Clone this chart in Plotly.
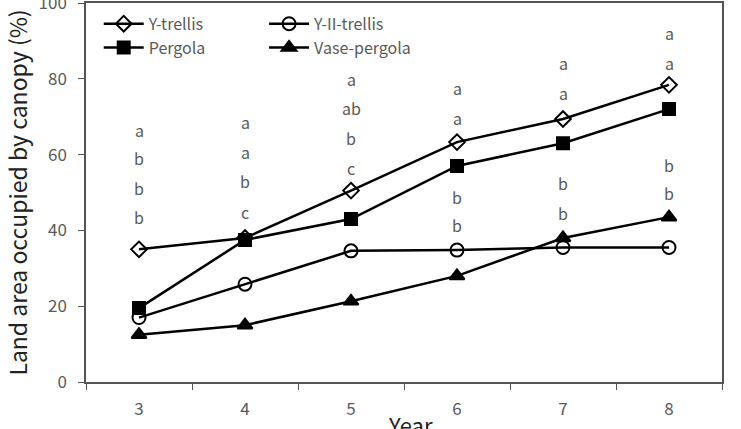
import plotly.graph_objects as go

years = [3, 4, 5, 6, 7, 8]
y_trellis = [35, 38, 50.5, 63.3, 69.4, 78.4]
y2_trellis = [17, 25.8, 34.6, 34.8, 35.5, 35.5]
pergola = [19.5, 37.5, 43, 57, 63, 72]
vase_pergola = [12.5, 15, 21.3, 28, 38, 43.5]

# significance letters per year (top to bottom) and their heights (data units)
letters = [
    ["a", "b", "b", "b"],
    ["a", "a", "b", "c"],
    ["a", "ab", "b", "c"],
    ["a", "a", "b", "b"],
    ["a", "a", "b", "b"],
    ["a", "a", "b", "b"],
]
letter_y = [
    [66.5, 59.1, 51.2, 43.5],
    [68.6, 60.7, 53.0, 44.9],
    [79.9, 72.3, 64.4, 56.5],
    [77.6, 69.7, 48.8, 41.4],
    [84.2, 76.3, 52.5, 44.6],
    [92.1, 84.2, 57.3, 49.9],
]

FONT = "Noto Sans CJK KR"
TXT = "#5a5a5a"

fig = go.Figure()
series = [
    ("Y-trellis", y_trellis, "diamond-open", 12, "legend"),
    ("Pergola", pergola, "square", 12, "legend"),
    ("Y-II-trellis", y2_trellis, "circle-open", 13, "legend2"),
    ("Vase-pergola", vase_pergola, "triangle-up", 13, "legend2"),
]
for name, vals, sym, size, leg in series:
    fig.add_trace(go.Scatter(
        x=years, y=vals, name=name, mode="lines+markers",
        line=dict(color="black", width=2.5),
        marker=dict(symbol=sym, size=size, color="black",
                    line=dict(color="black", width=2)),
        legend=leg,
    ))

for yr, ts, ys in zip(years, letters, letter_y):
    for t, yv in zip(ts, ys):
        fig.add_annotation(x=yr, y=yv, xref="x", yref="y", text=t, showarrow=False,
                           font=dict(family=FONT, size=16, color=TXT))

# x-axis title (placed low so it is partly cut by the page edge, as in the reference)
fig.add_annotation(x=0.51, y=-0.11, xref="paper", yref="paper", text="Year",
                   showarrow=False, yanchor="middle",
                   font=dict(family=FONT, size=22, color="#222"))

leg_common = dict(
    bgcolor="rgba(0,0,0,0)", borderwidth=0, itemwidth=40,
    font=dict(family=FONT, size=16, color=TXT),
    yanchor="top", xanchor="left", tracegroupgap=0,
)
fig.update_layout(
    width=741, height=429,
    margin=dict(l=86, r=19, t=3, b=47, autoexpand=False),
    plot_bgcolor="white", paper_bgcolor="white",
    showlegend=True,
    legend=dict(x=0.02, y=0.99, **leg_common),
    legend2=dict(x=0.28, y=0.99, **leg_common),
    xaxis=dict(
        range=[years[0] - 0.5, years[-1] + 0.5],
        tickvals=years, ticks="",
        minor=dict(tick0=2.5, dtick=1, ticks="outside", ticklen=6, tickcolor="#555", showgrid=False),
        showline=True, linecolor="#555", linewidth=1.5, mirror=True,
        showgrid=False, zeroline=False, ticklabelstandoff=11,
        tickfont=dict(family=FONT, size=17, color=TXT),
    ),
    yaxis=dict(
        range=[0, 100], dtick=20, ticks="outside", ticklen=6, tickcolor="#555",
        showline=True, linecolor="#555", linewidth=1.5, mirror=True,
        showgrid=False, zeroline=False, ticklabelstandoff=8,
        ticklabeloverflow="allow",
        tickfont=dict(family=FONT, size=17, color=TXT),
        title=dict(text="Land area occupied by canopy (%)",
                   font=dict(family=FONT, size=23, color="#222"), standoff=4),
    ),
)

fig.write_html("out.html")
